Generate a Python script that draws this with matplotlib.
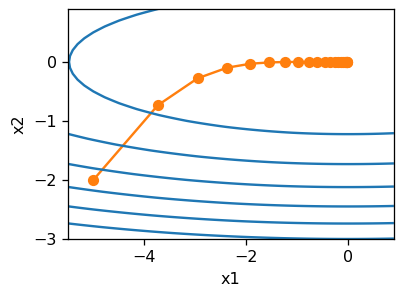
import numpy as np
import matplotlib
matplotlib.use("Agg")
import matplotlib.pyplot as plt

# RMSProp trajectory points
traj_x1 = [-5.0, -3.735, -2.953, -2.373, -1.915, -1.543, -1.236, -0.983, -0.773,
           -0.601, -0.461, -0.348, -0.258, -0.188, -0.134, -0.094, -0.064,
           -0.043, -0.028, -0.017, -0.011]
traj_x2 = [-2.0, -0.735, -0.278, -0.098, -0.031, -0.0087, -0.0021, -0.0004, -0.0001,
           0.0, 0.0, 0.0, 0.0, 0.0, 0.0, 0.0, 0.0, 0.0, 0.0, 0.0, 0.0]

# objective surface coefficients and grid
coef_x1 = 0.1
coef_x2 = 2.0
grid_x1 = np.arange(-5.5, 1.0, 0.1)
grid_x2 = np.arange(-3.0, 1.0, 0.1)

dpi = 115
fig = plt.figure(figsize=(404 / dpi, 299 / dpi), dpi=dpi)
ax = fig.add_axes([0.168, 0.2007, 0.807, 0.770])

ax.plot(traj_x1, traj_x2, '-o', color='#ff7f0e')
X1, X2 = np.meshgrid(grid_x1, grid_x2)
ax.contour(X1, X2, coef_x1 * X1 ** 2 + coef_x2 * X2 ** 2, colors='#1f77b4')
ax.set_xlabel('x1')
ax.set_ylabel('x2')

fig.savefig('out.png', dpi=dpi)
